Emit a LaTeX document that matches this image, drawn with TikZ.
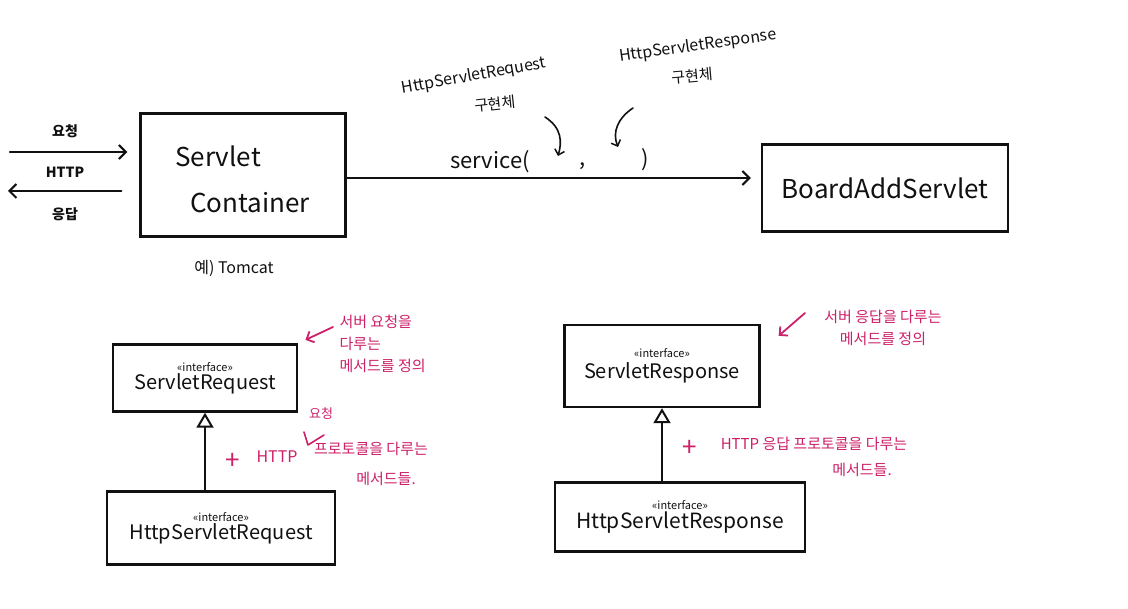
\documentclass[tikz,border=0pt]{standalone}
\usepackage{fontspec}
\setmainfont{Noto Sans CJK KR}
\usetikzlibrary{arrows.meta,calc}
\definecolor{pinkink}{RGB}{204,32,104}
\definecolor{ink}{RGB}{17,17,17}
\begin{document}
\begin{tikzpicture}[x=1pt,y=-1pt,
  inkline/.style={draw=ink,line width=2.4pt,line cap=round,line join=round},
  thinink/.style={draw=ink,line width=1.6pt,line cap=round},
  barb/.style={-{Straight Barb[length=7pt,width=14pt,line width=2pt]}},
  smallbarb/.style={-{Straight Barb[length=5pt,width=10pt,line width=1.5pt]}},
  box/.style={draw=ink,line width=2.4pt,inner sep=0pt,align=center,text=ink},
  big/.style={font=\fontsize{26}{32}\selectfont,text=ink},
  mid/.style={font=\fontsize{15}{19}\selectfont,text=ink},
  note/.style={text=pinkink,font=\fontsize{15}{22}\selectfont},
  pinkarrow/.style={draw=pinkink,line width=1.8pt,line cap=round,-{Straight Barb[length=6pt,width=12pt,line width=1.8pt]}},
  inherit/.style={draw=ink,line width=2.4pt,-{Triangle[open,length=15pt,width=17pt,line width=2pt]}}
]
\useasboundingbox[fill=white] (0,0) rectangle (1128,609);

% Servlet container
\node[box,minimum width=205pt,minimum height=123pt] (container) at (243,175) {};
\node[big] (servletword) at (218,156) {Servlet};
\node[big] (containerword) at (250,203) {Container};
\node[mid,font=\fontsize{16}{20}\selectfont] (tomcat) at (234,268) {예) Tomcat};

% HTTP in/out
\coordinate (reqin) at (10,152);
\coordinate (respout) at (8,191);
\draw[inkline,barb,shorten >=12pt] (reqin) -- (reqin -| container.west);
\draw[inkline,barb,shorten <=18pt] (respout -| container.west) -- (respout);
\node[mid,font=\fontsize{14}{16}\selectfont\bfseries] (yocheong) at (65,131) {요청};
\node[mid,font=\fontsize{14}{16}\selectfont\bfseries] (http) at (65,172) {HTTP};
\node[mid,font=\fontsize{14}{16}\selectfont\bfseries] (eungdap) at (65,214) {응답};

% BoardAddServlet
\node[box,big,minimum width=246pt,minimum height=87pt] (board) at (885,188) {BoardAddServlet};
\draw[inkline,barb,shorten >=10pt] ([yshift=-3pt]container.east) -- ([yshift=-3pt]container.east -| board.west);

% service( , )
\node[font=\fontsize{22}{26}\selectfont,text=ink] (svc) at (490,162) {service(};
\node[font=\fontsize{22}{26}\selectfont,text=ink] (comma) at (583,166) {,};
\node[font=\fontsize{22}{26}\selectfont,text=ink] (close) at (645,160) {)};

% implementation labels
\node[mid,font=\fontsize{16}{20}\selectfont,rotate=10] (reqimpl) at (474,76) {HttpServletRequest};
\node[mid,font=\fontsize{15}{19}\selectfont,rotate=6] (reqimpl2) at (495,104) {구현체};
\node[mid,font=\fontsize{16}{20}\selectfont,rotate=8] (respimpl) at (698,46) {HttpServletResponse};
\node[mid,font=\fontsize{15}{19}\selectfont,rotate=5] (respimpl2) at (692,76) {구현체};
\coordinate (c1s) at (545,117);
\coordinate (c1e) at (558,156);
\coordinate (c2s) at (633,108);
\coordinate (c2e) at (618,147);
\draw[thinink,smallbarb] (c1s) .. controls (562,128) and (562,142) .. (c1e);
\draw[thinink,smallbarb] (c2s) .. controls (618,118) and (612,132) .. (c2e);

% ServletRequest
\node[box,minimum width=184pt,minimum height=67pt] (sreq) at (205,378)
  {{\fontsize{11}{13}\selectfont «interface»}\\[1pt]{\fontsize{20}{24}\selectfont ServletRequest}};
% HttpServletRequest
\node[box,minimum width=228pt,minimum height=73pt] (hreq) at (221,528)
  {{\fontsize{11}{13}\selectfont «interface»}\\[1pt]{\fontsize{20}{24}\selectfont HttpServletRequest}};
\draw[inherit] (sreq.south |- hreq.north) -- (sreq.south);

% ServletResponse
\node[box,minimum width=195pt,minimum height=82pt] (sresp) at (662,366)
  {{\fontsize{11}{13}\selectfont «interface»}\\[4pt]{\fontsize{20}{24}\selectfont ServletResponse}};
% HttpServletResponse
\node[box,minimum width=250pt,minimum height=69pt] (hresp) at (680,517)
  {{\fontsize{11}{13}\selectfont «interface»}\\[1pt]{\fontsize{21}{25}\selectfont HttpServletResponse}};
\draw[inherit] (sresp.south |- hresp.north) -- (sresp.south);

% pink notes, left
\node[note,align=left,anchor=north west] (note1) at (336,312) {서버 요청을\\다루는\\메서드를 정의};
\coordinate (a1) at (333,327);
\draw[pinkarrow,shorten >=8pt] (a1) -- (sreq.north east);
\node[note,font=\fontsize{26}{28}\selectfont] (plus1) at (233,461) {+};
\node[note,font=\fontsize{16}{20}\selectfont] (http1) at (277,457) {HTTP};
\node[note,font=\fontsize{13}{15}\selectfont] (ins1) at (321,414) {요청};
\draw[draw=pinkink,line width=1.6pt,line cap=round,line join=round] (304,432) -- (308,445) -- (324,435);
\node[note] (proto1) at (371,449) {프로토콜을 다루는};
\node[note] (meth1) at (386,479) {메서드들.};

% pink notes, right
\node[note,align=center] (note2) at (883,328) {서버 응답을 다루는\\메서드를 정의};
\coordinate (a2) at (805,313);
\draw[pinkarrow] (a2) -- ($(sresp.north east)+(18,12)$);
\node[note,font=\fontsize{26}{28}\selectfont] (plus2) at (690,448) {+};
\node[note] (proto2) at (814,444) {HTTP 응답 프로토콜을 다루는};
\node[note] (meth2) at (862,470) {메서드들.};

\end{tikzpicture}
\end{document}
